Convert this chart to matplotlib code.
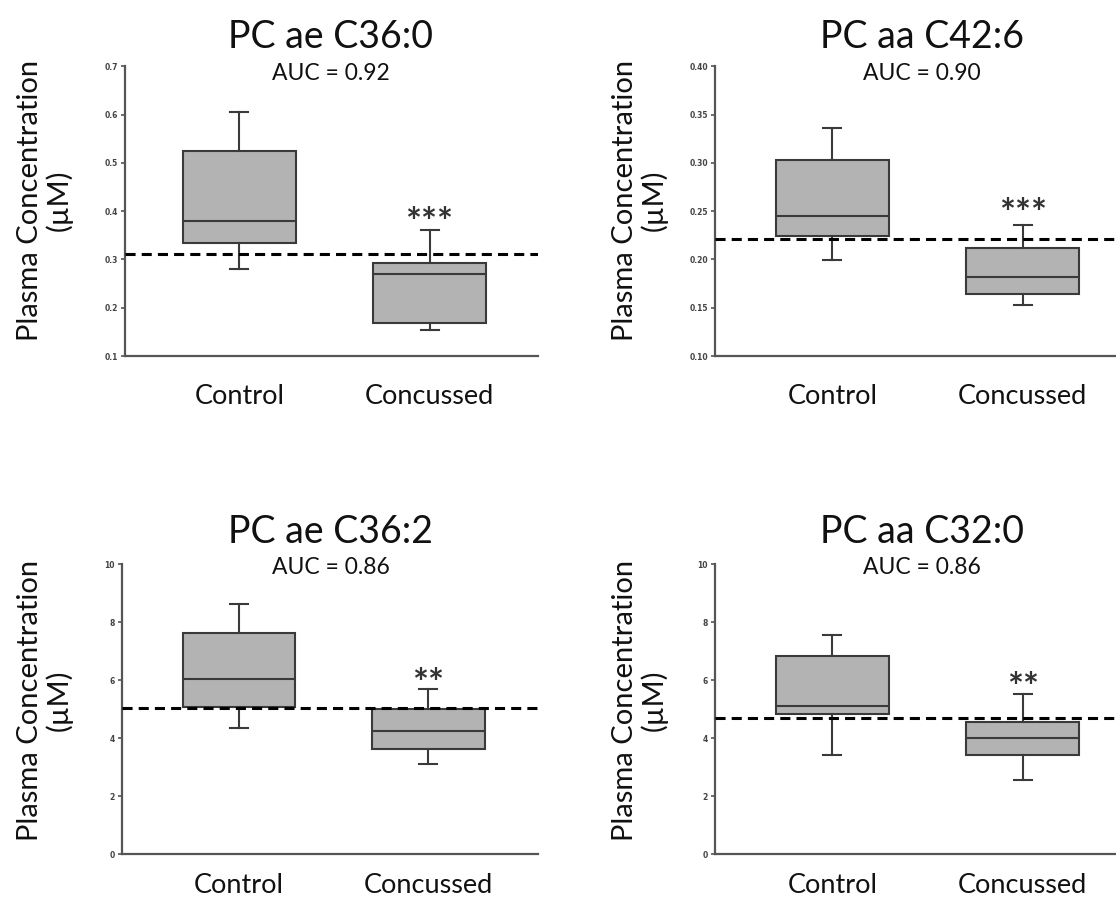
import numpy as np
import matplotlib.pyplot as plt

# Data
groups = ["Control", "Concussed"]

titles = ["PC ae C36:0", "PC aa C42:6", "PC ae C36:2", "PC aa C32:0"]
auc = [0.92, 0.90, 0.86, 0.86]
stars = ["***", "***", "**", "**"]
star_y = [0.392, 0.255, 6.15, 6.0]
cutoff = [0.311, 0.221, 5.05, 4.70]

# per panel: [control, concussed] -> whislo, q1, med, q3, whishi
whislo = [[0.280, 0.154], [0.199, 0.153], [4.35, 3.09], [3.40, 2.57]]
q1 = [[0.334, 0.169], [0.224, 0.164], [5.08, 3.64], [4.82, 3.43]]
med = [[0.379, 0.270], [0.245, 0.182], [6.05, 4.24], [5.10, 4.00]]
q3 = [[0.525, 0.292], [0.303, 0.212], [7.62, 4.99], [6.83, 4.55]]
whishi = [[0.605, 0.360], [0.336, 0.236], [8.64, 5.68], [7.57, 5.51]]

yticks = [np.arange(0.1, 0.71, 0.1), np.arange(0.10, 0.401, 0.05),
          np.arange(0, 10.1, 2), np.arange(0, 10.1, 2)]
yfmt = ["{:.1f}", "{:.2f}", "{:.0f}", "{:.0f}"]

FONT = "Lato"
plt.rcParams["font.family"] = [FONT, "DejaVu Sans"]

fig = plt.figure(figsize=(11.16, 9), dpi=100)

# axes boxes in figure fractions
rects = [[0.112, 0.6044, 0.370, 0.322],
         [0.6407, 0.6044, 0.3593, 0.322],
         [0.1093, 0.0511, 0.3727, 0.322],
         [0.6407, 0.0511, 0.3593, 0.322]]
xlims = [(0.398, 2.57), (0.384, 2.49), (0.38, 2.58), (0.384, 2.49)]
xpads = [20, 20, 14, 14]

spine_col = "#555555"
edge_col = "#3a3a3a"
fill_col = "#b3b3b3"

for i in range(4):
    ax = fig.add_axes(rects[i])
    stats = []
    for j in range(2):
        stats.append(dict(whislo=whislo[i][j], q1=q1[i][j], med=med[i][j],
                          q3=q3[i][j], whishi=whishi[i][j], fliers=[]))
    ax.bxp(stats, positions=[1, 2], widths=0.595, capwidths=0.095,
           patch_artist=True, showfliers=False,
           boxprops=dict(facecolor=fill_col, edgecolor=edge_col, linewidth=1.5),
           medianprops=dict(color=edge_col, linewidth=1.5),
           whiskerprops=dict(color=edge_col, linewidth=1.5),
           capprops=dict(color=edge_col, linewidth=1.5))
    ax.axhline(cutoff[i], color="black", lw=2.2, linestyle=(0, (3.3, 2)), zorder=5)
    # Lato's asterisk sits high in the line, so nudge it down a little
    ax.annotate(stars[i], (2, star_y[i]), xytext=(0, -6.5),
                textcoords="offset points", ha="center", va="center",
                fontsize=27, fontweight="bold", color="#333333")

    ax.set_xlim(*xlims[i])
    ax.set_ylim(yticks[i][0], yticks[i][-1])
    ax.set_yticks(yticks[i])
    ax.set_yticklabels([yfmt[i].format(v) for v in yticks[i]],
                       fontsize=5.5, family="DejaVu Sans", fontweight="bold",
                       color="#444444")
    ax.set_xticks([1, 2])
    ax.set_xticklabels(groups, fontsize=19.5, color="#111111")
    ax.tick_params(axis="x", length=0, pad=xpads[i])
    ax.tick_params(axis="y", length=3, width=1.2, color=spine_col, pad=2)
    for s in ["top", "right"]:
        ax.spines[s].set_visible(False)
    for s in ["left", "bottom"]:
        ax.spines[s].set_color(spine_col)
        ax.spines[s].set_linewidth(1.6)

# titles, AUC and y labels, placed in pixel terms
W, H = 1116.0, 900.0
title_pos = [(330, 37), (922, 37), (330, 532), (922, 532)]
auc_pos = [(331, 73), (922, 73), (331, 568), (922, 568)]
ylab_pos = [(45, 200), (640, 200), (45, 700), (640, 700)]

for i in range(4):
    tx, ty = title_pos[i]
    fig.text(tx / W, 1 - ty / H, titles[i], ha="center", va="center",
             fontsize=27, color="#111111")
    axx, axy = auc_pos[i]
    fig.text(axx / W, 1 - axy / H, "AUC = {:.2f}".format(auc[i]), ha="center",
             va="center", fontsize=16.5, color="#111111")
    lx, ly = ylab_pos[i]
    fig.text(lx / W, 1 - ly / H, "Plasma Concentration\n(\u00b5M)", ha="center",
             va="center", rotation=90, fontsize=21, color="#111111",
             multialignment="center", linespacing=1.1)

fig.savefig("out.png", dpi=100, facecolor="white")
